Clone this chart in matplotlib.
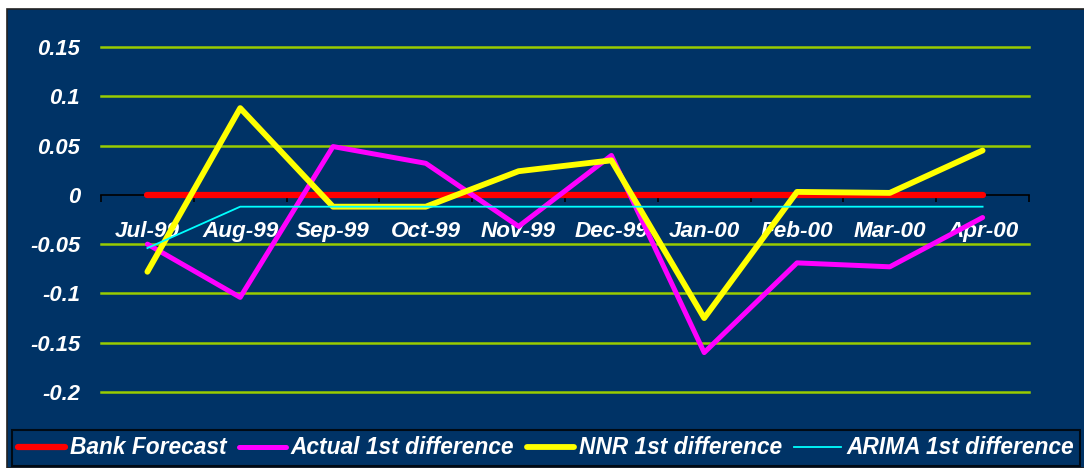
import numpy as np
import matplotlib.pyplot as plt
from matplotlib.patches import Rectangle

# monthly data
months = ['Jul-99', 'Aug-99', 'Sep-99', 'Oct-99', 'Nov-99',
          'Dec-99', 'Jan-00', 'Feb-00', 'Mar-00', 'Apr-00']
bank_forecast = [0, 0, 0, 0, 0, 0, 0, 0, 0, 0]
actual_diff = [-0.050, -0.104, 0.049, 0.032, -0.032, 0.040, -0.160, -0.069, -0.073, -0.023]
nnr_diff = [-0.078, 0.088, -0.012, -0.012, 0.024, 0.035, -0.125, 0.003, 0.002, 0.045]
arima_diff = [-0.054, -0.012, -0.012, -0.012, -0.012, -0.012, -0.012, -0.012, -0.012, -0.012]

navy = '#003366'
grid_col = '#99CC00'
W, H = 1084, 468

plt.rcParams['font.family'] = ['Liberation Sans', 'DejaVu Sans']
plt.rcParams['font.weight'] = 'bold'
plt.rcParams['font.style'] = 'italic'

fig = plt.figure(figsize=(W / 100, H / 100), dpi=100, facecolor='white')

# dark chart panel
fig.patches.append(Rectangle((7 / W, 0), 1, 1 - 9 / H, transform=fig.transFigure,
                             facecolor=navy, edgecolor='#222222', linewidth=1.2, zorder=-5))

ax = fig.add_axes([101 / W, (H - 392) / H, 928 / W, 345 / H])
ax.set_facecolor('none')

x = np.arange(len(months))
ax.plot(x, bank_forecast, color='#FF0000', lw=4.5, solid_capstyle='round', label='Bank Forecast', zorder=3)
ax.plot(x, actual_diff, color='#FF00FF', lw=3.6, solid_capstyle='round', label='Actual 1st difference', zorder=4)
ax.plot(x, nnr_diff, color='#FFFF00', lw=4.2, solid_capstyle='round', label='NNR 1st difference', zorder=5)
ax.plot(x, arima_diff, color='#00FFFF', lw=1.3, label='ARIMA 1st difference', zorder=6)

ax.set_xlim(-0.5, len(months) - 0.5)
ax.set_ylim(-0.2, 0.15)
yt = [0.15, 0.1, 0.05, 0, -0.05, -0.1, -0.15, -0.2]
ax.set_yticks(yt)
ax.set_yticklabels(['0.15', '0.1', '0.05', '0', '-0.05', '-0.1', '-0.15', '-0.2'])
for v in yt:
    if v != 0:
        ax.axhline(v, color=grid_col, lw=1.8, zorder=1, clip_on=False)

for s in ['top', 'right', 'left']:
    ax.spines[s].set_visible(False)
ax.spines['bottom'].set_position(('data', 0))
ax.spines['bottom'].set_color('black')
ax.spines['bottom'].set_linewidth(1.2)
ax.spines['bottom'].set_zorder(2)

ax.set_xticks(x)
ax.set_xticklabels(months)
ax.set_xticks(np.arange(-0.5, len(months)), minor=True)
ax.tick_params(axis='x', which='major', length=0, pad=19, labelsize=16.2, labelcolor='white')
ax.tick_params(axis='x', which='minor', length=5, width=1.2, color='black', direction='out')
ax.tick_params(axis='y', length=0, pad=15, labelsize=15.8, labelcolor='white')

leg = fig.legend(loc='center', bbox_to_anchor=(546 / W, 1 - 448 / H), ncol=4,
                 fontsize=16.4, frameon=True, fancybox=False, facecolor=navy,
                 edgecolor='black', handlelength=2.05, handletextpad=0.22,
                 columnspacing=0.55, borderpad=0.3, borderaxespad=0)
leg.get_frame().set_linewidth(1.5)
for t in leg.get_texts():
    t.set_color('white')

fig.savefig('out.png', dpi=100, facecolor='white')
